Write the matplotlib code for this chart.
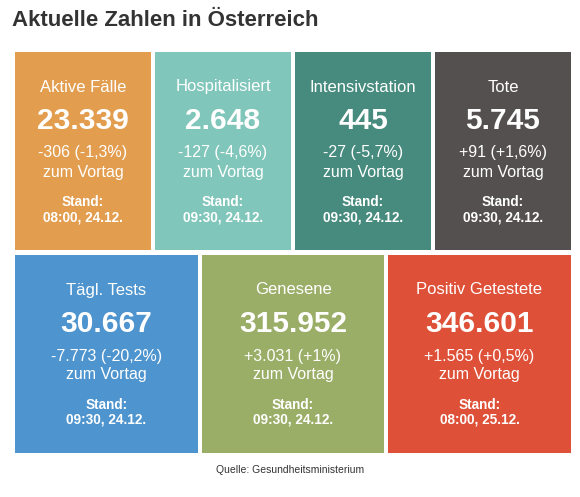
import matplotlib.pyplot as plt
from matplotlib.patches import Rectangle

plt.rcParams['font.family'] = ['Liberation Sans', 'DejaVu Sans']

title = 'Aktuelle Zahlen in Österreich'
source = 'Quelle: Gesundheitsministerium'

labels = ['Aktive Fälle', 'Hospitalisiert', 'Intensivstation', 'Tote',
          'Tägl. Tests', 'Genesene', 'Positiv Getestete']
values = ['23.339', '2.648', '445', '5.745', '30.667', '315.952', '346.601']
changes = ['-306 (-1,3%)', '-127 (-4,6%)', '-27 (-5,7%)', '+91 (+1,6%)',
           '-7.773 (-20,2%)', '+3.031 (+1%)', '+1.565 (+0,5%)']
stand = ['08:00, 24.12.', '09:30, 24.12.', '09:30, 24.12.', '09:30, 24.12.',
         '09:30, 24.12.', '09:30, 24.12.', '08:00, 25.12.']
colors = ['#E39D4F', '#80C6BA', '#468B7E', '#545050',
          '#4E94CE', '#9BAE68', '#DE5138']

# tile boxes in pixels: x0, x1, y0, y1
boxes = [(15, 151, 52, 250), (155, 291, 52, 250), (295, 431, 52, 250), (435, 571, 52, 250),
         (15, 198, 255, 453), (202, 384, 255, 453), (388, 571, 255, 453)]

W, H = 580, 497
fig = plt.figure(figsize=(W / 100, H / 100), dpi=100)
ax = fig.add_axes([0, 0, 1, 1])
ax.set_xlim(0, W)
ax.set_ylim(H, 0)
ax.axis('off')

ax.text(12, 21, title, fontsize=16, fontweight='bold', color='#333333',
        va='center', ha='left')

for i, (x0, x1, y0, y1) in enumerate(boxes):
    ax.add_patch(Rectangle((x0, y0), x1 - x0, y1 - y0, color=colors[i], lw=0))
    cx = (x0 + x1) / 2
    ax.text(cx, y0 + 35, labels[i], fontsize=12, color='white', ha='center', va='center')
    ax.text(cx, y0 + 69, values[i], fontsize=21.5, fontweight='bold', color='white',
            ha='center', va='center')
    ax.text(cx, y0 + 101, changes[i], fontsize=11.5, color='white', ha='center', va='center')
    ax.text(cx, y0 + 120, 'zum Vortag', fontsize=11.5, color='white', ha='center', va='center')
    ax.text(cx, y0 + 150, 'Stand:', fontsize=9.8, fontweight='bold', color='white',
            ha='center', va='center')
    ax.text(cx, y0 + 165, stand[i], fontsize=9.8, fontweight='bold', color='white',
            ha='center', va='center')

ax.text(290, 470, source, fontsize=7.5, color='#333333', ha='center', va='center')

fig.savefig('out.png', dpi=100)
